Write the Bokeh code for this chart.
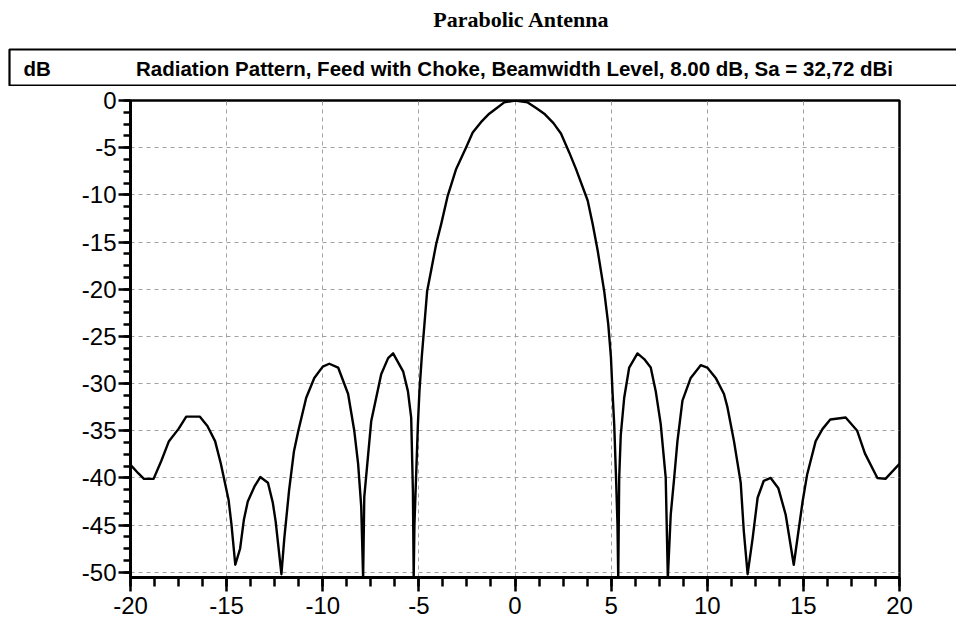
from bokeh.plotting import figure
from bokeh.layouts import column
from bokeh.models import Range1d, SingleIntervalTicker, ColumnDataSource
from bokeh.core.properties import value
from bokeh.embed import file_html
from bokeh.resources import INLINE

# ---- data (angle in degrees, level in dB) ----
angle = [
    -20.0, -19.6, -19.3, -18.8, -18.4, -18.0, -17.5, -17.1, -16.4, -16.0,
    -15.6, -15.3, -14.9, -14.75, -14.55, -14.3, -14.1, -13.9, -13.55, -13.25,
    -12.85, -12.6, -12.45, -12.15, -12.0, -11.75, -11.5, -11.27, -10.86, -10.44,
    -10.0, -9.66, -9.2, -8.68, -8.36, -8.16, -8.0, -7.9, -7.84, -7.48,
    -6.96, -6.6, -6.34, -5.82, -5.57, -5.4, -5.31, -5.27, -5.23, -5.14,
    -5.05, -4.97, -4.85, -4.71, -4.57, -4.36, -4.1, -3.84, -3.5, -3.06,
    -2.55, -2.2, -1.77, -1.34, -1.08, -0.56, 0.0,
    0.66, 1.1, 1.52, 2.0, 2.39, 2.82, 3.17, 3.78, 4.04, 4.3, 4.64, 4.85,
    4.99, 5.07, 5.16, 5.25, 5.33, 5.37, 5.42, 5.5, 5.68, 5.94,
    6.37, 6.72, 7.06, 7.32, 7.58, 7.84, 7.95, 8.1, 8.28, 8.45,
    8.71, 9.14, 9.66, 10.0, 10.44, 10.87, 11.05, 11.39, 11.74, 11.9,
    12.1, 12.36, 12.62, 12.94, 13.3, 13.7, 14.08, 14.5, 14.96, 15.2,
    15.64, 16.0, 16.4, 17.2, 17.8, 18.2, 18.85, 19.27, 20.0,
]
level_db = [
    -38.6, -39.5, -40.1, -40.1, -38.2, -36.1, -34.8, -33.5, -33.5, -34.5,
    -36.1, -38.5, -42.3, -44.9, -49.2, -47.5, -44.4, -42.5, -40.9, -39.9,
    -40.5, -42.6, -44.6, -50.2, -46.4, -41.3, -37.2, -35.0, -31.5, -29.4,
    -28.2, -27.9, -28.3, -31.1, -35.0, -38.5, -43.0, -50.6, -42.0, -34.0,
    -29.0, -27.3, -26.8, -28.7, -30.8, -33.6, -41.4, -50.6, -44.9, -39.6,
    -34.3, -30.8, -27.2, -23.7, -20.2, -18.0, -15.2, -13.1, -10.1, -7.25,
    -5.0, -3.4, -2.3, -1.4, -1.0, -0.2, 0.0,
    -0.2, -0.8, -1.4, -2.4, -3.5, -5.5, -7.25, -10.6, -13.1, -15.9, -20.2, -23.7,
    -27.2, -30.8, -34.3, -39.6, -44.9, -50.6, -40.0, -35.5, -31.5, -28.3,
    -26.8, -27.4, -28.3, -30.8, -34.3, -40.0, -50.6, -43.9, -40.0, -36.1,
    -31.8, -29.4, -28.05, -28.3, -29.4, -31.1, -32.5, -36.1, -40.5, -45.6,
    -50.2, -46.4, -42.1, -40.3, -40.0, -41.1, -43.9, -49.2, -42.5, -39.6,
    -36.1, -34.8, -33.8, -33.6, -35.0, -37.4, -40.0, -40.1, -38.5,
]

chart_title = "Parabolic Antenna"
unit_label = "dB"
subtitle = "Radiation Pattern, Feed with Choke, Beamwidth Level, 8.00 dB, Sa = 32,72 dBi"
x_ticks = [-20, -15, -10, -5, 0, 5, 10, 15, 20]
y_ticks = [0, -5, -10, -15, -20, -25, -30, -35, -40, -45, -50]

W = 956
HEAD_H = 86          # header strip (title + boxed caption)
MAIN_H = 626 - HEAD_H

# ---------------- header: a frame-only figure in pixel coordinates ----------------
head = figure(width=W, height=HEAD_H, output_backend="svg", toolbar_location=None,
              x_range=Range1d(0, W), y_range=Range1d(HEAD_H, 0),
              x_axis_type=None, y_axis_type=None,
              min_border_left=0, min_border_right=0, min_border_top=0, min_border_bottom=0,
              background_fill_color="white", border_fill_color="white")
head.outline_line_color = None
head.frame_align = False

head.line(x=[W + 20, 9, 9, W + 20], y=[49, 49, 85, 85],
          line_color="black", line_width=2.2)
head.text(x=[521], y=[19], text=[chart_title], text_align="center", text_baseline="middle",
          text_font=value("Liberation Serif"), text_font_style="bold",
          text_font_size="22px", text_color="black")
head.text(x=[23], y=[68], text=[unit_label], text_align="left", text_baseline="middle",
          text_font=value("Liberation Sans"), text_font_style="bold",
          text_font_size="20.5px", text_color="black")
head.text(x=[514], y=[68], text=[subtitle], text_align="center", text_baseline="middle",
          text_font=value("Liberation Sans"), text_font_style="bold",
          text_font_size="20.5px", text_color="black")

# ---------------- main chart ----------------
p = figure(width=W, height=MAIN_H, output_backend="svg", toolbar_location=None,
           x_range=Range1d(-20, 20), y_range=Range1d(-50.55, 0),
           min_border_left=130, min_border_right=57,
           min_border_top=100 - HEAD_H, min_border_bottom=49,
           background_fill_color="white", border_fill_color="white")
p.frame_align = False

p.outline_line_color = "black"
p.outline_line_width = 2.5

src = ColumnDataSource(dict(x=angle, y=level_db))
p.line("x", "y", source=src, line_color="black", line_width=2.4, line_join="round")

for ax, ticks in ((p.xaxis[0], x_ticks), (p.yaxis[0], y_ticks)):
    ax.ticker = SingleIntervalTicker(interval=5, num_minor_ticks=4)
    ax.major_label_overrides = {t: str(t) for t in ticks}
    ax.axis_line_color = "black"
    ax.axis_line_width = 3
    ax.major_tick_line_color = "black"
    ax.major_tick_line_width = 2.5
    ax.minor_tick_line_color = "black"
    ax.minor_tick_line_width = 2.5
    ax.major_tick_in = 0
    ax.minor_tick_in = 0
    ax.major_label_text_font = "Liberation Sans"
    ax.major_label_text_font_size = "24px"
    ax.major_label_text_color = "black"

p.xaxis.major_tick_out = 14
p.xaxis.minor_tick_out = 9
p.xaxis.major_label_standoff = 5
p.yaxis.major_tick_out = 12
p.yaxis.minor_tick_out = 7
p.yaxis.major_label_standoff = 2

for g in (p.xgrid[0], p.ygrid[0]):
    g.grid_line_color = "#a0a0a0"
    g.grid_line_dash = "4 4"
    g.grid_line_width = 1

layout = column(head, p, spacing=0)
open("out.html", "w").write(file_html(layout, INLINE))
